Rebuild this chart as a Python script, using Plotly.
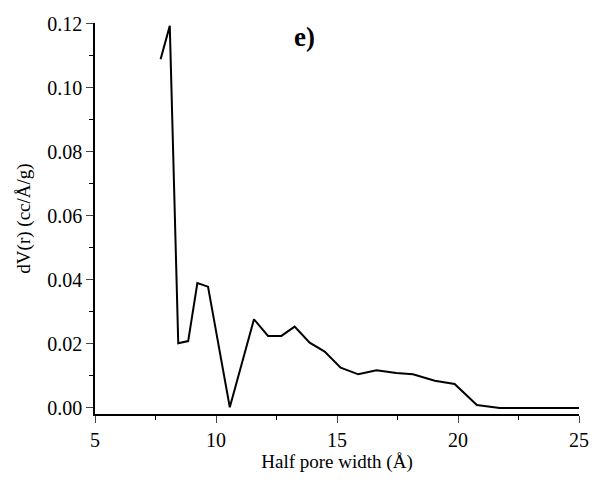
import plotly.graph_objects as go

half_pore_width = [7.71, 8.09, 8.44, 8.85, 9.23, 9.67, 10.57, 11.05, 11.57, 12.15, 12.70,
                   13.25, 13.87, 14.49, 15.15, 15.88, 16.63, 17.45, 18.14, 19.04, 19.86,
                   20.78, 21.72, 22.7, 23.8, 25.0]
dV = [0.109, 0.1194, 0.0202, 0.0209, 0.0390, 0.0379, 0.0002, 0.0135, 0.0277, 0.0225, 0.0225,
      0.0254, 0.0204, 0.0176, 0.0126, 0.0105, 0.0118, 0.0109, 0.0105, 0.0085, 0.0075,
      0.0009, 0.0, 0.0, 0.0, 0.0]

x_ticks = [5, 10, 15, 20, 25]
y_ticks = [0.00, 0.02, 0.04, 0.06, 0.08, 0.10, 0.12]
y_tick_text = ["0.00", "0.02", "0.04", "0.06", "0.08", "0.10", "0.12"]

font_family = "Liberation Serif, Times New Roman, serif"

fig = go.Figure()
fig.add_trace(go.Scatter(x=half_pore_width, y=dV, mode="lines",
                         line=dict(color="black", width=2), showlegend=False))

fig.update_layout(
    width=595, height=483,
    margin=dict(l=95, r=16, t=23, b=69),
    paper_bgcolor="white", plot_bgcolor="white",
    font=dict(family=font_family, size=20, color="black"),
    annotations=[dict(text="<b>e)</b>", x=0.432, y=0.964, xref="paper", yref="paper",
                      showarrow=False, xanchor="center", yanchor="middle",
                      font=dict(size=27, family=font_family, color="black"))],
)
fig.update_xaxes(
    range=[5, 25], tickvals=x_ticks, ticks="outside", ticklen=7, tickwidth=1.3,
    showline=True, linecolor="black", linewidth=1.6, showgrid=False, zeroline=False,
    minor=dict(ticks="outside", ticklen=4, dtick=2.5, tickcolor="black", tickwidth=1.3),
    title=dict(text="Half pore width (Å)", font=dict(size=19), standoff=4),
    tickfont=dict(size=20), automargin=False,
)
fig.update_yaxes(
    range=[-0.0019, 0.1203], tickvals=y_ticks, ticktext=y_tick_text, ticks="outside",
    ticklen=7, tickwidth=1.3,
    showline=True, linecolor="black", linewidth=1.6, showgrid=False, zeroline=False,
    minor=dict(ticks="outside", ticklen=4, dtick=0.01, tickcolor="black", tickwidth=1.3),
    title=dict(text="dV(r) (cc/Å/g)", font=dict(size=19), standoff=12),
    tickfont=dict(size=20), automargin=False,
)

fig.write_html("out.html")
